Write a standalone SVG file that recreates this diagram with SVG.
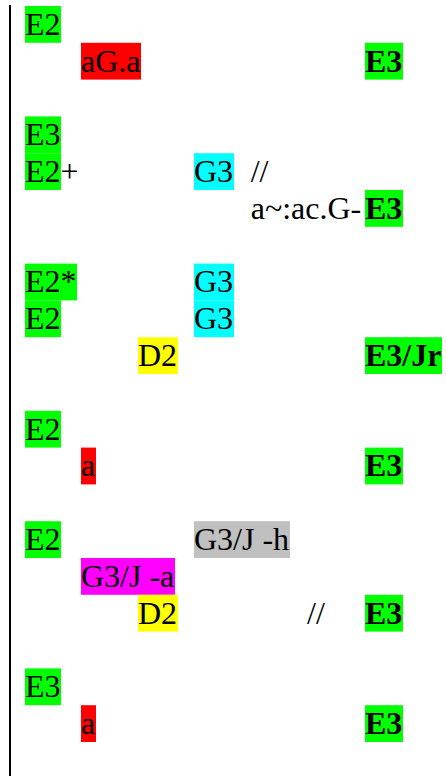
<svg xmlns="http://www.w3.org/2000/svg" width="446" height="776" viewBox="0 0 446 776">
<style>
text{font-family:"Liberation Serif","Times New Roman",serif;font-size:32px;fill:#000;white-space:pre}
.b{font-weight:bold}
.g{fill:#00ff00}.r{fill:#ff0000}.c{fill:#00ffff}.y{fill:#ffff00}.m{fill:#ff00ff}.s{fill:#c0c0c0}
</style>
<rect width="446" height="776" fill="#fff"/>
<line x1="10" y1="5" x2="10" y2="776" stroke="#000" stroke-width="2"/>
<g id="connectors"/>
<g id="n1"><rect class="g" x="25" y="6" width="36" height="36.8"/><text x="25" y="34.7">E2</text></g>
<g id="n2"><rect class="r" x="81" y="42.8" width="60" height="36.8"/><text x="81" y="71.5">aG.a</text></g>
<g id="n3"><rect class="g" x="365" y="42.8" width="38" height="36.8"/><text class="b" x="365" y="71.5">E3</text></g>
<g id="n4"><rect class="g" x="25" y="116.4" width="36" height="36.8"/><text x="25" y="145.1">E3</text></g>
<g id="n5"><rect class="g" x="25" y="153.2" width="36" height="36.8"/><text x="25" y="181.9">E2+</text></g>
<g id="n6"><rect class="c" x="194" y="153.2" width="40" height="36.8"/><text x="194" y="181.9">G3</text></g>
<g id="n7"><text x="250.7" y="181.9">//</text></g>
<g id="n8"><text x="250.7" y="218.7">a~:ac.G-</text></g>
<g id="n9"><rect class="g" x="365" y="190" width="38" height="36.8"/><text class="b" x="365" y="218.7">E3</text></g>
<g id="n10"><rect class="g" x="25" y="263.6" width="52" height="36.8"/><text x="25" y="292.3">E2*</text></g>
<g id="n11"><rect class="c" x="194" y="263.6" width="40" height="36.8"/><text x="194" y="292.3">G3</text></g>
<g id="n12"><rect class="g" x="25" y="300.4" width="36" height="36.8"/><text x="25" y="329.1">E2</text></g>
<g id="n13"><rect class="c" x="194" y="300.4" width="40" height="36.8"/><text x="194" y="329.1">G3</text></g>
<g id="n14"><rect class="y" x="138" y="337.2" width="40" height="36.8"/><text x="138" y="365.9">D2</text></g>
<g id="n15"><rect class="g" x="365" y="337.2" width="77" height="36.8"/><text class="b" x="365" y="365.9">E3/Jr</text></g>
<g id="n16"><rect class="g" x="25" y="410.8" width="36" height="36.8"/><text x="25" y="439.5">E2</text></g>
<g id="n17"><rect class="r" x="81" y="447.6" width="15" height="36.8"/><text x="81" y="476.3">a</text></g>
<g id="n18"><rect class="g" x="365" y="447.6" width="38" height="36.8"/><text class="b" x="365" y="476.3">E3</text></g>
<g id="n19"><rect class="g" x="25" y="521.2" width="36" height="36.8"/><text x="25" y="549.9">E2</text></g>
<g id="n20"><rect class="s" x="194" y="521.2" width="96" height="36.8"/><text x="194" y="549.9">G3/J -h</text></g>
<g id="n21"><rect class="m" x="81" y="558" width="94" height="36.8"/><text x="81" y="586.7">G3/J -a</text></g>
<g id="n22"><rect class="y" x="138" y="594.8" width="40" height="36.8"/><text x="138" y="623.5">D2</text></g>
<g id="n23"><text x="307" y="623.5">//</text></g>
<g id="n24"><rect class="g" x="365" y="594.8" width="38" height="36.8"/><text class="b" x="365" y="623.5">E3</text></g>
<g id="n25"><rect class="g" x="25" y="668.4" width="36" height="36.8"/><text x="25" y="697.1">E3</text></g>
<g id="n26"><rect class="r" x="81" y="705.2" width="15" height="36.8"/><text x="81" y="733.9">a</text></g>
<g id="n27"><rect class="g" x="365" y="705.2" width="38" height="36.8"/><text class="b" x="365" y="733.9">E3</text></g>
</svg>
